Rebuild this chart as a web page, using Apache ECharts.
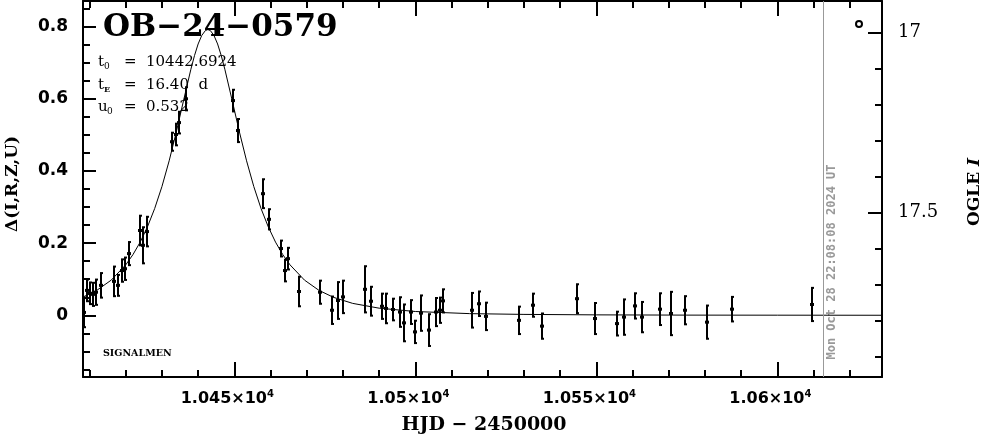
<!DOCTYPE html>
<html>
<head>
<meta charset="utf-8">
<script src="https://cdn.jsdelivr.net/npm/echarts/dist/echarts.min.js"></script>
<style>
html,body{margin:0;padding:0;background:#fff;}
#chart{width:986px;height:434px;}
</style>
</head>
<body>
<div id="chart"></div>
<script>
// ---- data ----
const obsT = [10408.5, 10409.2, 10410.0, 10410.9, 10411.8, 10413.1, 10416.9, 10417.9, 10418.9, 10419.8, 10420.9, 10423.9, 10424.9, 10425.8, 10432.9, 10433.9, 10434.8, 10436.7, 10449.7, 10450.9, 10458.0, 10459.7, 10462.8, 10463.9, 10464.9, 10467.9, 10473.7, 10476.9, 10478.7, 10480.1, 10486.1, 10487.7, 10490.7, 10492.0, 10493.7, 10495.7, 10496.9, 10498.9, 10499.8, 10501.5, 10503.7, 10505.6, 10506.8, 10507.7, 10515.7, 10517.6, 10519.5, 10528.7, 10532.6, 10534.9, 10544.7, 10549.6, 10555.6, 10557.7, 10560.6, 10562.6, 10567.7, 10570.6, 10574.6, 10580.6, 10587.6, 10609.6];
const obsDelta = [0.008, 0.069, 0.061, 0.058, 0.064, 0.083, 0.094, 0.083, 0.124, 0.129, 0.171, 0.235, 0.194, 0.232, 0.481, 0.501, 0.534, 0.600, 0.595, 0.512, 0.337, 0.266, 0.185, 0.124, 0.157, 0.066, 0.064, 0.014, 0.041, 0.051, 0.072, 0.039, 0.025, 0.019, 0.016, 0.009, -0.021, 0.009, -0.046, 0.006, -0.041, 0.009, 0.014, 0.040, 0.014, 0.032, -0.003, -0.014, 0.028, -0.030, 0.046, -0.009, -0.023, -0.005, 0.026, -0.005, 0.017, 0.005, 0.014, -0.019, 0.017, 0.030];
const obsErr = [0.041, 0.030, 0.030, 0.032, 0.035, 0.034, 0.041, 0.029, 0.031, 0.031, 0.032, 0.041, 0.050, 0.041, 0.025, 0.030, 0.030, 0.032, 0.030, 0.032, 0.040, 0.028, 0.022, 0.030, 0.030, 0.041, 0.032, 0.038, 0.051, 0.045, 0.064, 0.040, 0.035, 0.041, 0.030, 0.041, 0.051, 0.033, 0.031, 0.049, 0.044, 0.039, 0.035, 0.032, 0.048, 0.034, 0.038, 0.038, 0.032, 0.035, 0.040, 0.043, 0.033, 0.049, 0.035, 0.042, 0.044, 0.060, 0.039, 0.046, 0.034, 0.046];

const modelT = [10408.2, 10412, 10416, 10420, 10422, 10424, 10426, 10428, 10430, 10432, 10434, 10436, 10438, 10439, 10440, 10441, 10442, 10442.69, 10443.38, 10444.38, 10445.38, 10446.38, 10447.38, 10449.38, 10451.38, 10453.38, 10455.38, 10457.38, 10459.38, 10461.38, 10463.38, 10465.38, 10469.38, 10473.38, 10477.38, 10482.69, 10490, 10500, 10515, 10530, 10550, 10575, 10600, 10628.9];
const modelDelta = [0.0506, 0.0691, 0.0975, 0.1398, 0.1682, 0.2028, 0.2450, 0.2959, 0.3567, 0.4281, 0.5091, 0.5964, 0.6819, 0.7198, 0.7519, 0.7755, 0.7890, 0.7918, 0.7890, 0.7755, 0.7519, 0.7198, 0.6819, 0.5964, 0.5091, 0.4281, 0.3567, 0.2959, 0.2450, 0.2028, 0.1682, 0.1398, 0.0975, 0.0691, 0.0498, 0.0330, 0.0197, 0.0105, 0.0046, 0.0025, 0.0012, 0.0005, 0.0003, 0.0001];

const xMajorTicks = [10450, 10500, 10550, 10600];
const xTickMantissa = ['1.045', '1.05', '1.055', '1.06'];
const xTickExponent = '4';
const xMinorTicks = [10410, 10420, 10430, 10440, 10450, 10460, 10470, 10480, 10490, 10500, 10510, 10520, 10530, 10540, 10550, 10560, 10570, 10580, 10590, 10600, 10610, 10620];
const yMajorTicks = [0, 0.2, 0.4, 0.6, 0.8];
const yTickLabels = ['0', '0.2', '0.4', '0.6', '0.8'];
const yMinorTicks = [-0.15, -0.1, -0.05, 0, 0.05, 0.1, 0.15, 0.2, 0.25, 0.3, 0.35, 0.4, 0.45, 0.5, 0.55, 0.6, 0.65, 0.7, 0.75, 0.8, 0.85];
const magMajorTicks = [17, 17.5];
const magTickLabels = ['17', '17.5'];
const magMinorTicks = [17.0, 17.1, 17.2, 17.3, 17.4, 17.5, 17.6, 17.7, 17.8, 17.9];
const dateLineT = 10612.6;

const xMin = 10408.2, xMax = 10628.9;
const yMin = -0.171, yMax = 0.871;
const magMin = 16.912, magMax = 17.956;

// ---- chart ----
const chart = echarts.init(document.getElementById('chart'), null, {renderer: 'canvas'});
const BLACK = '#000';

function xAxisDef(position, ticks, len, withLine, withLabels) {
  return {
    type: 'value', position: position, min: xMin, max: xMax,
    axisLine: {show: withLine, onZero: false, lineStyle: {color: BLACK, width: 2}},
    axisTick: {show: true, inside: true, length: len, customValues: ticks, lineStyle: {color: BLACK, width: 2}},
    axisLabel: withLabels ? {
      show: true, customValues: xMajorTicks, margin: 12,
      formatter: function (v) {
        const i = xMajorTicks.indexOf(v);
        return '{m|' + xTickMantissa[i] + '×10}{e|' + xTickExponent + '}';
      },
      padding: [0, 14, 0, 0],
      rich: {
        m: {fontFamily: 'DejaVu Sans', fontWeight: 'bold', fontSize: 16, color: BLACK, lineHeight: 20},
        e: {fontFamily: 'DejaVu Sans', fontWeight: 'bold', fontSize: 10, color: BLACK, lineHeight: 10, verticalAlign: 'top'}
      }
    } : {show: false},
    splitLine: {show: false}
  };
}
function yAxisDef(position, min, max, inverse, ticks, len, withLine, labelVals, labelTexts, labelStyle) {
  return {
    type: 'value', position: position, min: min, max: max, inverse: inverse,
    axisLine: {show: withLine, onZero: false, lineStyle: {color: BLACK, width: 2}},
    axisTick: {show: true, inside: true, length: len, customValues: ticks, lineStyle: {color: BLACK, width: 2}},
    axisLabel: labelVals ? Object.assign({
      show: true, customValues: labelVals,
      formatter: function (v) {
        let best = 0;
        for (let i = 0; i < labelVals.length; i++) if (Math.abs(labelVals[i] - v) < Math.abs(labelVals[best] - v)) best = i;
        return labelTexts[best];
      }
    }, labelStyle) : {show: false},
    splitLine: {show: false}
  };
}

const obsData = obsT.map((t, i) => [t, obsDelta[i], obsErr[i]]);
const modelData = modelT.map((t, i) => [t, modelDelta[i]]);

const option = {
  animation: false,
  backgroundColor: '#fff',
  grid: {left: 83, right: 104, top: 1, bottom: 57, containLabel: false, outerBoundsMode: 'none'},
  xAxis: [
    xAxisDef('bottom', xMajorTicks, 15, true, true),
    xAxisDef('bottom', xMinorTicks, 7, false, false),
    xAxisDef('top', xMajorTicks, 15, true, false),
    xAxisDef('top', xMinorTicks, 7, false, false)
  ],
  yAxis: [
    yAxisDef('left', yMin, yMax, false, yMajorTicks, 13, true, yMajorTicks, yTickLabels,
      {margin: 15, fontFamily: 'DejaVu Sans', fontWeight: 'bold', fontSize: 17, color: BLACK}),
    yAxisDef('left', yMin, yMax, false, yMinorTicks, 7, false, null),
    yAxisDef('right', magMin, magMax, true, magMajorTicks, 14, true, magMajorTicks, magTickLabels,
      {margin: 16, fontFamily: 'DejaVu Serif', fontWeight: 'normal', fontSize: 18, color: BLACK}),
    yAxisDef('right', magMin, magMax, true, magMinorTicks, 7, false, null)
  ],
  series: [
    {
      type: 'line', xAxisIndex: 0, yAxisIndex: 0, data: modelData,
      showSymbol: false, smooth: false,
      lineStyle: {color: BLACK, width: 1}, silent: true, z: 2,
      markLine: {
        silent: true, symbol: 'none', animation: false,
        label: {show: false},
        lineStyle: {color: '#999', width: 1, type: 'solid'},
        data: [{xAxis: dateLineT}]
      }
    },
    {
      type: 'custom', xAxisIndex: 0, yAxisIndex: 0, data: obsData, clip: true, z: 3,
      renderItem: function (params, api) {
        const t = api.value(0), d = api.value(1), e = api.value(2);
        const top = api.coord([t, d + e]);
        const bot = api.coord([t, d - e]);
        const c = api.coord([t, d]);
        const x = Math.round(c[0]);
        const st = {stroke: BLACK, lineWidth: 2};
        return {
          type: 'group',
          children: [
            {type: 'line', shape: {x1: x, y1: top[1], x2: x, y2: bot[1]}, style: st},
            {type: 'line', shape: {x1: x - 1, y1: top[1], x2: x + 2, y2: top[1]}, style: st},
            {type: 'line', shape: {x1: x - 1, y1: bot[1], x2: x + 2, y2: bot[1]}, style: st},
            {type: 'rect', shape: {x: x - 2, y: c[1] - 1.5, width: 4, height: 3}, style: {fill: BLACK}}
          ]
        };
      }
    }
  ],
  graphic: [
    {type: 'text', x: 103, y: 28, z: 10, style: {text: 'OB−24−0579', fontFamily: 'DejaVu Serif', fontWeight: 'bold', fontSize: 31, fill: BLACK, align: 'left', verticalAlign: 'middle'}},
    // parameters
    {type: 'text', x: 98, y: 62, style: {text: 't', fontFamily: 'DejaVu Serif', fontSize: 15, fill: BLACK, verticalAlign: 'middle'}},
    {type: 'text', x: 104, y: 67, style: {text: '0', fontFamily: 'DejaVu Serif', fontSize: 9, fill: BLACK, verticalAlign: 'middle'}},
    {type: 'text', x: 124, y: 62, style: {text: '=', fontFamily: 'DejaVu Serif', fontSize: 15, fill: BLACK, verticalAlign: 'middle'}},
    {type: 'text', x: 146, y: 62, style: {text: '10442.6924', fontFamily: 'DejaVu Serif', fontSize: 15, fill: BLACK, verticalAlign: 'middle'}},
    {type: 'text', x: 98, y: 85, style: {text: 't', fontFamily: 'DejaVu Serif', fontSize: 15, fill: BLACK, verticalAlign: 'middle'}},
    {type: 'text', x: 104, y: 90, style: {text: 'E', fontFamily: 'DejaVu Serif', fontWeight: 'bold', fontSize: 8, fill: BLACK, verticalAlign: 'middle'}},
    {type: 'text', x: 124, y: 85, style: {text: '=', fontFamily: 'DejaVu Serif', fontSize: 15, fill: BLACK, verticalAlign: 'middle'}},
    {type: 'text', x: 146, y: 85, style: {text: '16.40  d', fontFamily: 'DejaVu Serif', fontSize: 15, fill: BLACK, verticalAlign: 'middle'}},
    {type: 'text', x: 98, y: 107, style: {text: 'u', fontFamily: 'DejaVu Serif', fontSize: 15, fill: BLACK, verticalAlign: 'middle'}},
    {type: 'text', x: 107, y: 112, style: {text: '0', fontFamily: 'DejaVu Serif', fontSize: 9, fill: BLACK, verticalAlign: 'middle'}},
    {type: 'text', x: 124, y: 107, style: {text: '=', fontFamily: 'DejaVu Serif', fontSize: 15, fill: BLACK, verticalAlign: 'middle'}},
    {type: 'text', x: 146, y: 107, style: {text: '0.532', fontFamily: 'DejaVu Serif', fontSize: 15, fill: BLACK, verticalAlign: 'middle'}},
    // small label
    {type: 'text', x: 103, y: 354, style: {text: 'SIGNALMEN', fontFamily: 'DejaVu Serif', fontWeight: 'bold', fontSize: 9.5, fill: BLACK, verticalAlign: 'middle'}},
    // axis names
    {type: 'text', x: 13, y: 184, rotation: Math.PI / 2, style: {text: 'Δ(I,R,Z,U)', fontFamily: 'DejaVu Serif', fontWeight: 'bold', fontSize: 17, fill: BLACK, align: 'center', verticalAlign: 'middle'}},
    {type: 'text', x: 484, y: 425, style: {text: 'HJD − 2450000', fontFamily: 'DejaVu Serif', fontWeight: 'bold', fontSize: 19, fill: BLACK, align: 'center', verticalAlign: 'middle'}},
    {type: 'text', x: 975, y: 192, rotation: Math.PI / 2, style: {
      text: '{a|OGLE }{b|I}', align: 'center', verticalAlign: 'middle',
      rich: {
        a: {fontFamily: 'DejaVu Serif', fontWeight: 'bold', fontSize: 17, fill: BLACK},
        b: {fontFamily: 'DejaVu Serif', fontWeight: 'bold', fontStyle: 'italic', fontSize: 17, fill: BLACK}
      }
    }},
    // date stamp
    {type: 'text', x: 832, y: 262, rotation: Math.PI / 2, style: {text: 'Mon Oct 28 22:08:08 2024 UT', fontFamily: 'DejaVu Sans Mono', fontWeight: 'bold', fontSize: 12, fill: '#999', align: 'center', verticalAlign: 'middle'}},
    // small circle marker
    {type: 'circle', shape: {cx: 859, cy: 24, r: 3}, style: {fill: '#fff', stroke: BLACK, lineWidth: 2}}
  ]
};
chart.setOption(option);
</script>
</body>
</html>
